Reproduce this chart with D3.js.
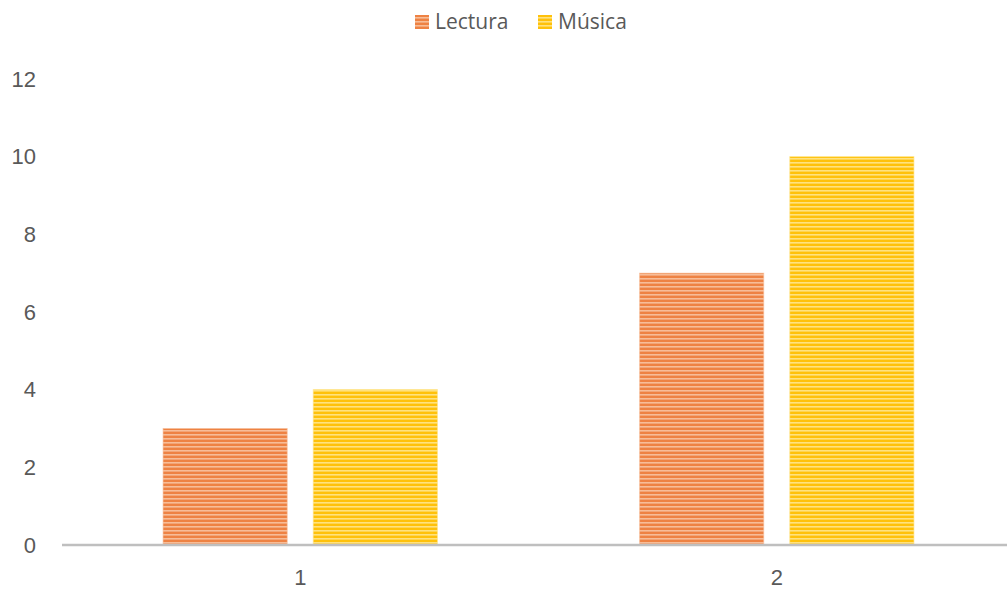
<!DOCTYPE html>
<html>
<head>
<meta charset="utf-8">
<script src="https://cdn.jsdelivr.net/npm/d3@7"></script>
<style>
  html, body { margin: 0; padding: 0; background: #fff; }
  svg { display: block; font-family: "Open Sans", "Noto Sans", sans-serif; }
</style>
</head>
<body>
<svg id="chart" width="1007" height="592"></svg>
<script>
// Chart data
const categories = ["1", "2"];
const seriesNames = ["Lectura", "Música"];
const lectura = [3, 7];
const musica = [4, 10];
const yTicks = [0, 2, 4, 6, 8, 10, 12];

const seriesColors = { "Lectura": ["#EE8243", "#F7BD98"], "Música": ["#FFC10A", "#FFE27F"] };

const svg = d3.select("#chart");
const margin = { left: 62, right: -8, top: 79, bottom: 47 };
const W = 1007, H = 592;

const x0 = d3.scaleBand().domain(categories).range([margin.left, W - margin.right]).paddingInner(0).paddingOuter(0);
const x1 = d3.scaleBand().domain(seriesNames).range([0, x0.bandwidth()]).paddingInner(0.1733).paddingOuter(0.673);
const y = d3.scaleLinear().domain([0, 12]).range([H - margin.bottom, margin.top]);

// Striped fills
const defs = svg.append("defs");
seriesNames.forEach((s, i) => {
  const p = defs.append("pattern")
    .attr("id", "stripe" + i)
    .attr("patternUnits", "userSpaceOnUse")
    .attr("width", 8).attr("height", 4);
  p.append("rect").attr("width", 8).attr("height", 4).attr("fill", seriesColors[s][0]);
  p.append("rect").attr("y", 2).attr("width", 8).attr("height", 1.6).attr("fill", seriesColors[s][1]);
});

const rows = categories.map((c, i) => ({ cat: c, values: [lectura[i], musica[i]] }));

// Bars
const groups = svg.append("g").selectAll("g").data(rows).join("g")
  .attr("transform", d => `translate(${x0(d.cat)},0)`);
groups.selectAll("rect").data(d => d.values.map((v, i) => ({ s: seriesNames[i], i, v })))
  .join("rect")
  .attr("x", d => x1(d.s))
  .attr("width", x1.bandwidth())
  .attr("y", d => y(d.v))
  .attr("height", d => y(0) - y(d.v))
  .attr("fill", d => `url(#stripe${d.i})`)
  .attr("stroke", d => seriesColors[d.s][1])
  .attr("stroke-width", 1)
  .attr("stroke-opacity", 0.6);

// Y axis (labels only)
const yAxis = svg.append("g")
  .attr("transform", `translate(36,0)`)
  .call(d3.axisLeft(y).tickValues(yTicks).tickSize(0).tickPadding(0));
yAxis.select(".domain").remove();
yAxis.selectAll("text").attr("fill", "#595959").style("font-size", "22px").attr("text-anchor", "end");

// X axis
const xAxis = svg.append("g")
  .attr("transform", `translate(0,${y(0)})`)
  .call(d3.axisBottom(x0).tickSize(0).tickPadding(24));
xAxis.select(".domain").remove();
xAxis.selectAll("text").attr("fill", "#595959").style("font-size", "22px");
svg.append("line")
  .attr("x1", margin.left).attr("x2", W)
  .attr("y1", y(0)).attr("y2", y(0))
  .attr("stroke", "#BFBFBF").attr("stroke-width", 2.5);

// Legend
const legendX = [415, 538];
const legend = svg.append("g").selectAll("g").data(seriesNames).join("g")
  .attr("transform", (d, i) => `translate(${legendX[i]},15)`);
legend.append("rect").attr("width", 14).attr("height", 14)
  .attr("fill", (d, i) => `url(#stripe${i})`);
legend.append("text").attr("x", 20).attr("y", 14)
  .attr("fill", "#595959").style("font-size", "21px")
  .text(d => d);
</script>
</body>
</html>
